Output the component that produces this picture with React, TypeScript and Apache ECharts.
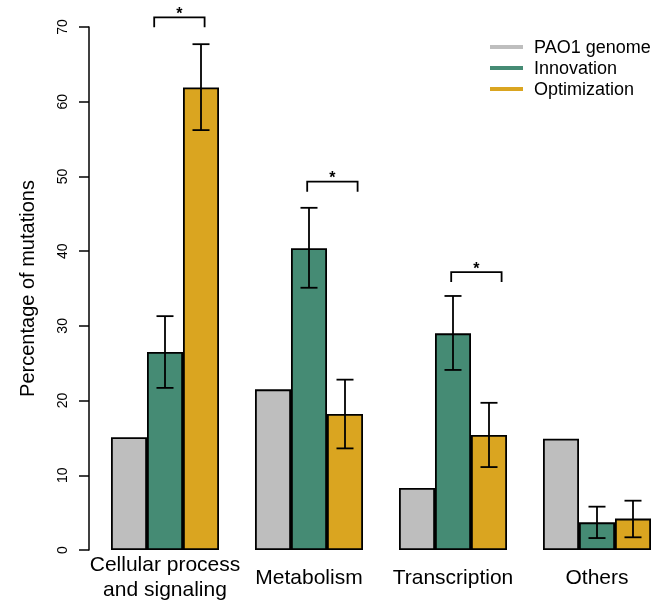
import React, { useEffect, useRef } from "react";
import * as echarts from "echarts";

const categories = ["Cellular process\nand signaling", "Metabolism", "Transcription", "Others"];
const seriesNames = ["PAO1 genome", "Innovation", "Optimization"];
const genome = [15.1, 21.5, 8.3, 14.9];
const innovation = [26.5, 40.4, 29.0, 3.7];
const innovationLo = [21.7, 35.1, 24.1, 1.6];
const innovationHi = [31.3, 45.8, 34.0, 5.8];
const optimization = [61.9, 18.2, 15.4, 4.2];
const optimizationLo = [56.2, 13.6, 11.1, 1.7];
const optimizationHi = [67.7, 22.8, 19.7, 6.6];
// significance brackets (x in bar-slot units, y in %)
const bracketLeft = [2.2, 6.45, 10.45];
const bracketRight = [3.6, 7.85, 11.85];
const bracketHeight = [71.3, 49.3, 37.2];
const bracketLabel = ["*", "*", "*"];

const colors = ["#BEBEBE", "#458B74", "#DAA520"];
const FONT = "'Liberation Sans', Arial, sans-serif";

const slotX = (g: number, s: number) => g * 4 + 1.5 + s;

export default function App() {
  const ref = useRef<HTMLDivElement>(null);
  useEffect(() => {
    const chart = echarts.init(ref.current!, null, { renderer: "svg" });
    const values = [genome, innovation, optimization];
    const barSeries = values.map((vals, s) => ({
      type: "bar",
      name: seriesNames[s],
      barWidth: 36,
      barGap: "-100%",
      z: 2,
      data: vals.map((v, g) => [slotX(g, s), v]),
      itemStyle: { color: colors[s], borderColor: "#000", borderWidth: 1.8 },
      emphasis: { disabled: true },
    }));
    const errData: number[][] = [];
    categories.forEach((_, g) => {
      errData.push([slotX(g, 1), innovationLo[g], innovationHi[g]]);
      errData.push([slotX(g, 2), optimizationLo[g], optimizationHi[g]]);
    });
    const bracketData = bracketLeft.map((l, i) => [l, bracketRight[i], bracketHeight[i], i]);

    chart.setOption({
      animation: false,
      grid: { left: 89, right: 5, top: 27, bottom: 50, outerBoundsMode: "none", containLabel: false },
      legend: {
        orient: "vertical",
        left: 485,
        top: 33,
        icon: "rect",
        itemWidth: 33,
        itemHeight: 4,
        itemGap: 3,
        itemStyle: { borderWidth: 0 },
        textStyle: { fontFamily: FONT, fontSize: 18, color: "#000", padding: [0, 0, 0, 6], lineHeight: 18 },
        data: seriesNames,
      },
      xAxis: {
        type: "value",
        min: 0.3889,
        max: 16,
        axisLine: { show: false },
        axisTick: { show: false },
        splitLine: { show: false },
        axisLabel: {
          customValues: categories.map((_, g) => g * 4 + 2.5),
          formatter: (v: number) => categories[Math.round((v - 2.5) / 4)] ?? "",
          fontFamily: FONT,
          fontSize: 21,
          color: "#000",
          lineHeight: 25,
          verticalAlign: "middle",
          margin: 26,
          align: "center",
        },
      },
      yAxis: {
        type: "value",
        min: 0,
        max: 70,
        interval: 10,
        name: "Percentage of mutations",
        nameLocation: "middle",
        nameGap: 52,
        nameTextStyle: { fontFamily: FONT, fontSize: 20, color: "#000" },
        axisLine: { show: true, lineStyle: { color: "#000", width: 1.5 } },
        axisTick: { show: true, length: 10, lineStyle: { color: "#000", width: 1.5 } },
        splitLine: { show: false },
        axisLabel: { rotate: 90, fontFamily: FONT, fontSize: 14, color: "#000", margin: 20 },
      },
      series: [
        ...barSeries,
        {
          type: "custom",
          silent: true,
          z: 10,
          data: errData,
          encode: { x: 0, y: [1, 2] },
          renderItem: (params: any, api: any) => {
            const x = api.value(0);
            const lo = api.coord([x, api.value(1)]);
            const hi = api.coord([x, api.value(2)]);
            const w = 8.5;
            const st = { stroke: "#000", lineWidth: 1.8 };
            return {
              type: "group",
              children: [
                { type: "line", shape: { x1: lo[0], y1: lo[1], x2: hi[0], y2: hi[1] }, style: st },
                { type: "line", shape: { x1: lo[0] - w, y1: lo[1], x2: lo[0] + w, y2: lo[1] }, style: st },
                { type: "line", shape: { x1: hi[0] - w, y1: hi[1], x2: hi[0] + w, y2: hi[1] }, style: st },
              ],
            };
          },
        },
        {
          type: "custom",
          silent: true,
          clip: false,
          z: 10,
          data: bracketData,
          encode: { x: [0, 1], y: 2 },
          renderItem: (params: any, api: any) => {
            const a = api.coord([api.value(0), api.value(2)]);
            const b = api.coord([api.value(1), api.value(2)]);
            const leg = 10;
            const st = { stroke: "#000", lineWidth: 1.8, fill: "none" };
            return {
              type: "group",
              children: [
                {
                  type: "polyline",
                  shape: { points: [[a[0], a[1] + leg], [a[0], a[1]], [b[0], b[1]], [b[0], b[1] + leg]] },
                  style: st,
                },
                {
                  type: "text",
                  style: {
                    x: (a[0] + b[0]) / 2,
                    y: a[1] - 12,
                    text: bracketLabel[api.value(3)],
                    font: `bold 16px ${FONT}`,
                    fill: "#000",
                    align: "center",
                    verticalAlign: "top",
                  },
                },
              ],
            };
          },
        },
      ],
    });
    return () => chart.dispose();
  }, []);
  return <div ref={ref} style={{ position: "fixed", left: 0, top: 0, width: 656, height: 600 }} />;
}
